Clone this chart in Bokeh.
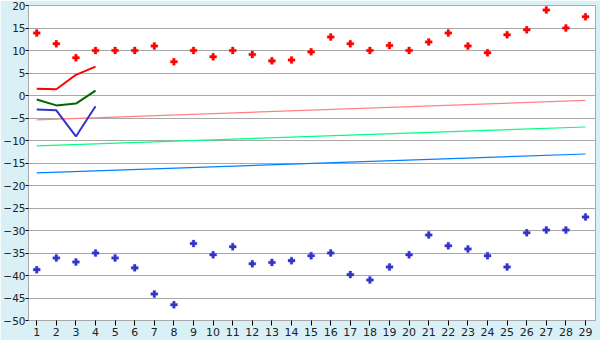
from bokeh.plotting import figure
from bokeh.models import Range1d, FixedTicker
from bokeh.embed import file_html
from bokeh.resources import INLINE

days = list(range(1, 30))
red_points = [13.9, 11.5, 8.4, 10.0, 10.0, 10.0, 11.0, 7.5, 10.0, 8.6,
              10.0, 9.1, 7.7, 7.9, 9.7, 13.0, 11.5, 10.0, 11.1, 10.0,
              11.9, 13.9, 11.0, 9.5, 13.5, 14.6, 19.0, 15.0, 17.5]
blue_points = [-38.7, -36.1, -37.0, -35.0, -36.1, -38.3, -44.1, -46.5, -32.9, -35.4,
               -33.6, -37.4, -37.1, -36.7, -35.6, -35.0, -39.8, -41.0, -38.1, -35.4,
               -31.0, -33.4, -34.1, -35.6, -38.1, -30.5, -29.9, -29.9, -27.0]

short_x = [1, 2, 3, 4]
red_line = [1.5, 1.4, 4.6, 6.4]
green_line = [-0.9, -2.2, -1.8, 1.1]
blue_line = [-3.1, -3.3, -9.1, -2.4]

trend_x = [1, 29]
pink_trend = [-5.4, -1.1]
lightgreen_trend = [-11.2, -7.0]
lightblue_trend = [-17.2, -13.0]

y_ticks = list(range(-50, 21, 5))

p = figure(width=600, height=340, output_backend="svg", toolbar_location=None,
           x_range=Range1d(0.58, 29.51), y_range=Range1d(-50, 20))
p.background_fill_color = "white"
p.border_fill_color = "#d9f0f7"
p.min_border_left = 27
p.min_border_right = 5
p.min_border_top = 5
p.min_border_bottom = 20
p.outline_line_color = "#a8a8a8"

p.xgrid.grid_line_color = None
p.ygrid.grid_line_color = "#a8a8a8"
p.ygrid.ticker = FixedTicker(ticks=y_ticks)

p.xaxis.ticker = FixedTicker(ticks=days)
p.yaxis.ticker = FixedTicker(ticks=y_ticks)
for ax in (p.xaxis[0], p.yaxis[0]):
    ax.axis_line_color = "#a8a8a8"
    ax.major_tick_line_color = "black"
    ax.major_tick_in = 0
    ax.major_tick_out = 4
    ax.minor_tick_line_color = None
    ax.major_label_text_font = "DejaVu Sans"
    ax.major_label_text_font_size = "11px"
    ax.major_label_text_color = "#222222"
    ax.major_label_standoff = 2
p.xaxis.major_tick_out = 5
p.yaxis.major_tick_out = 3
p.yaxis.major_label_standoff = 0
p.yaxis.major_label_text_font_size = "10.5px"

p.line(trend_x, pink_trend, line_color="#ff8080", line_width=1.2)
p.line(trend_x, lightgreen_trend, line_color="#00ff80", line_width=1.2)
p.line(trend_x, lightblue_trend, line_color="#0080ff", line_width=1.2)

p.line(short_x, red_line, line_color="#ff0000", line_width=2)
p.line(short_x, green_line, line_color="#006600", line_width=2)
p.line(short_x, blue_line, line_color="#3333cc", line_width=2)

p.scatter(days, red_points, marker="plus", size=7, fill_color="#ff0000", line_color="#ff0000", line_width=0.3)
p.scatter(days, blue_points, marker="plus", size=7, fill_color="#3333cc", line_color="#3333cc", line_width=0.3)

open("out.html", "w").write(file_html(p, INLINE))
